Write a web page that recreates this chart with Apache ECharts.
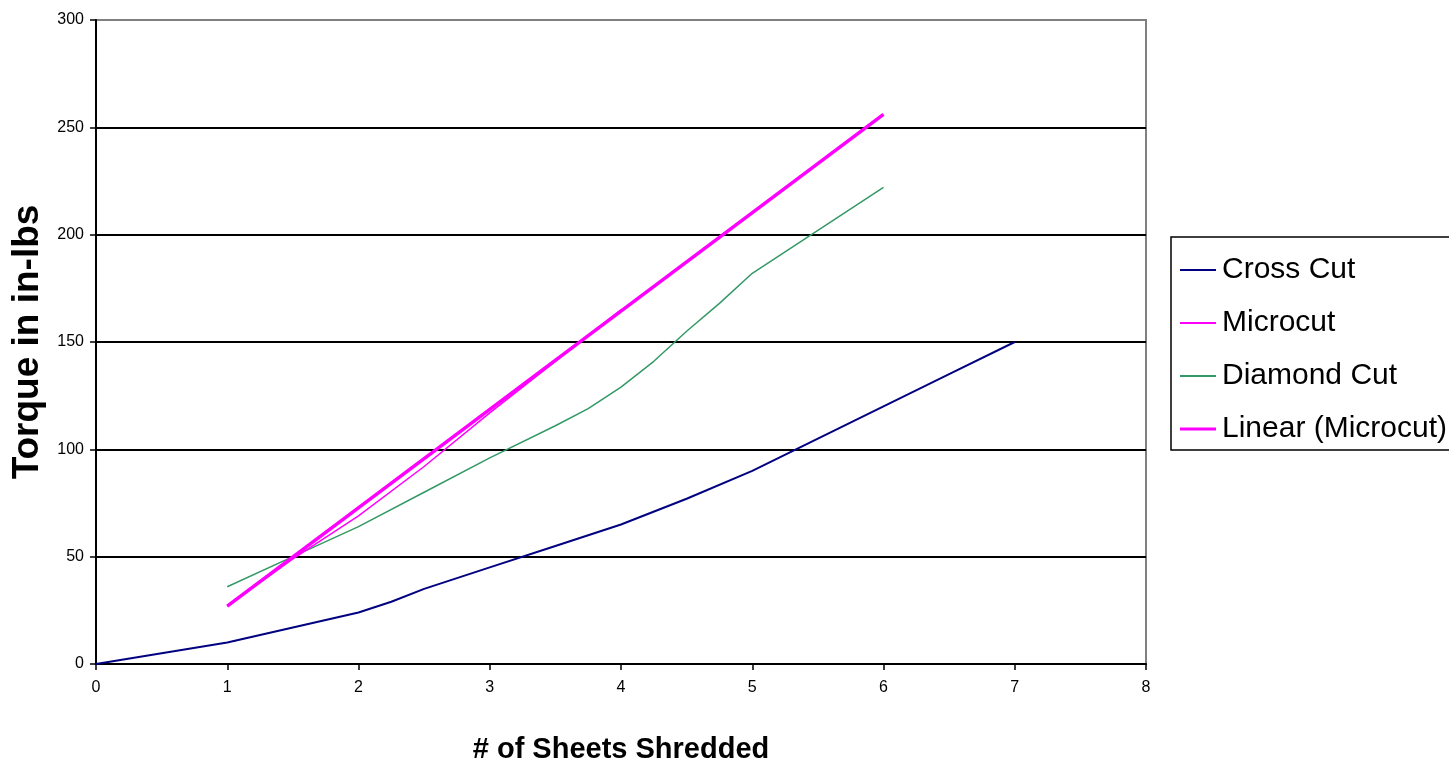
<!DOCTYPE html>
<html><head><meta charset="utf-8">
<script src="https://cdn.jsdelivr.net/npm/echarts@6/dist/echarts.min.js"></script>
<style>html,body{margin:0;padding:0;background:#fff}#c{width:1449px;height:768px}</style>
</head><body><div id="c"></div>
<script>
const crossX = [0, 0.5, 1, 1.5, 2, 2.25, 2.5, 3, 3.5, 4, 4.5, 5, 5.5, 6, 6.5, 7];
const crossY = [0, 5, 10, 17, 24, 29, 35, 45, 55, 65, 77, 90, 105, 120, 135, 150];
const microX = [1, 1.5, 2, 2.5, 3, 3.5, 4];
const microY = [27, 49, 69, 92, 117, 141, 165];
const diamondX = [1, 1.5, 2, 2.5, 3, 3.5, 3.75, 4, 4.25, 4.5, 4.75, 5, 5.5, 6];
const diamondY = [36, 50, 64, 80, 96, 111, 119, 129, 141, 155, 168, 182, 202, 222];
const trendX = [1, 6];
const trendY = [27, 256];
const names = ['Cross Cut', 'Microcut', 'Diamond Cut', 'Linear (Microcut)'];
const xTitle = '# of Sheets Shredded';
const yTitle = 'Torque in in-lbs';

const pair = (xs, ys) => xs.map((x, i) => [x, ys[i]]);
const font = 'Liberation Sans, Arial, sans-serif';
const chart = echarts.init(document.getElementById('c'));
chart.setOption({
  animation: false,
  backgroundColor: '#fff',
  textStyle: { fontFamily: font },
  grid: { left: 96, right: 303, top: 20, bottom: 104, containLabel: false, outerBoundsMode: 'none', show: true, borderColor: '#808080', borderWidth: 2, backgroundColor: 'transparent' },
  xAxis: {
    type: 'value', min: 0, max: 8, interval: 1,
    name: xTitle, nameLocation: 'middle', nameGap: 71,
    nameTextStyle: { fontSize: 29, fontWeight: 'bold', color: '#000', fontFamily: font },
    axisLine: { lineStyle: { color: '#000', width: 2 } },
    axisTick: { show: true, length: 6, lineStyle: { color: '#000', width: 1.5 } },
    axisLabel: { fontSize: 16, color: '#000', margin: 16 },
    splitLine: { show: false }
  },
  yAxis: {
    type: 'value', min: 0, max: 300, interval: 50,
    name: yTitle, nameLocation: 'middle', nameGap: 50,
    nameTextStyle: { fontSize: 37, fontWeight: 'bold', color: '#000', fontFamily: font },
    axisLine: { show: true, lineStyle: { color: '#000', width: 2 } },
    axisTick: { show: true, length: 6, lineStyle: { color: '#000', width: 1.5 } },
    axisLabel: { fontSize: 16, color: '#000', margin: 12 },
    splitLine: { show: true, lineStyle: { color: ['#000', '#000', '#000', '#000', '#000', '#000', '#808080'], width: 2 } }
  },
  legend: {
    orient: 'vertical', left: 1171, top: 237,
    padding: [18, 6, 6, 9], itemGap: 23,
    borderColor: '#000', borderWidth: 1.5, backgroundColor: '#fff',
    itemWidth: 36, itemHeight: 30,
    textStyle: { fontSize: 30, color: '#000', fontFamily: font, padding: [0, 0, 0, 1] },
    data: [
      { name: names[0], icon: 'path://M0,14 L36,14 L36,16 L0,16 Z' },
      { name: names[1], icon: 'path://M0,14 L36,14 L36,16 L0,16 Z' },
      { name: names[2], icon: 'path://M0,14 L36,14 L36,16 L0,16 Z' },
      { name: names[3], icon: 'path://M0,13.5 L36,13.5 L36,16.5 L0,16.5 Z' }
    ]
  },
  series: [
    { name: names[0], type: 'line', data: pair(crossX, crossY), showSymbol: false, symbol: 'none', lineStyle: { color: '#000080', width: 2 }, itemStyle: { color: '#000080' }, z: 3 },
    { name: names[1], type: 'line', data: pair(microX, microY), showSymbol: false, symbol: 'none', lineStyle: { color: '#FF00FF', width: 1.5 }, itemStyle: { color: '#FF00FF' }, z: 4 },
    { name: names[2], type: 'line', data: pair(diamondX, diamondY), showSymbol: false, symbol: 'none', lineStyle: { color: '#339966', width: 1.5 }, itemStyle: { color: '#339966' }, z: 3 },
    { name: names[3], type: 'line', data: pair(trendX, trendY), showSymbol: false, symbol: 'none', lineStyle: { color: '#FF00FF', width: 3.5 }, itemStyle: { color: '#FF00FF' }, z: 5 }
  ]
});
</script></body></html>
